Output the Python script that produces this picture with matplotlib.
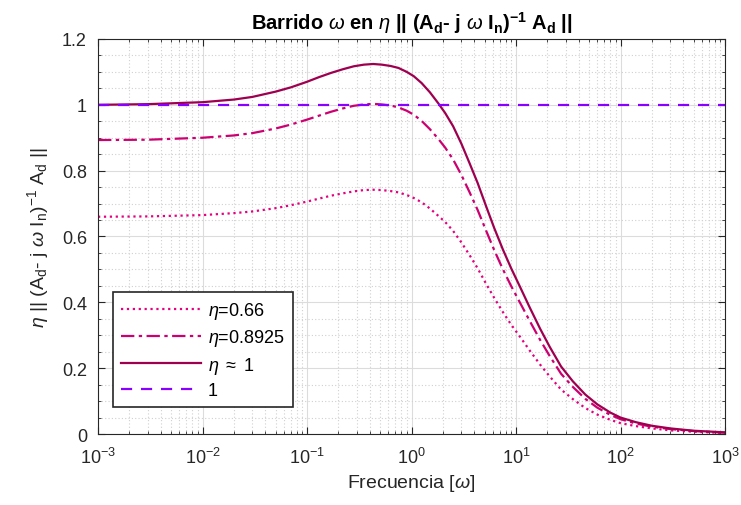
import matplotlib.pyplot as plt
import numpy as np
from matplotlib.ticker import LogLocator, MultipleLocator, FuncFormatter, NullFormatter

plt.rcParams['font.family'] = ['Liberation Sans', 'DejaVu Sans']
plt.rcParams['mathtext.fontset'] = 'custom'
plt.rcParams['mathtext.rm'] = 'Liberation Sans'
plt.rcParams['mathtext.it'] = 'Liberation Sans:italic'
plt.rcParams['mathtext.bf'] = 'Liberation Sans:bold'
plt.rcParams['axes.unicode_minus'] = False

# frequencies (rad/s)
w = [0.001, 0.003, 0.01, 0.02, 0.03, 0.05, 0.07, 0.1, 0.13, 0.17, 0.22, 0.28,
     0.35, 0.43, 0.52, 0.63, 0.75, 0.9, 1.05, 1.25, 1.5, 1.8, 2.1, 2.5, 3.0,
     3.6, 4.3, 5.2, 6.2, 7.5, 9.0, 11, 13.5, 17, 21, 27, 35, 46, 60, 80, 100,
     140, 200, 300, 500, 1000]

# eta ~ 1
n_1 = [1.000, 1.002, 1.008, 1.016, 1.024, 1.040, 1.053, 1.070, 1.084, 1.097,
       1.108, 1.117, 1.122, 1.124, 1.122, 1.118, 1.112, 1.100, 1.087, 1.066,
       1.038, 1.005, 0.975, 0.935, 0.882, 0.822, 0.762, 0.690, 0.625, 0.560,
       0.503, 0.445, 0.385, 0.320, 0.265, 0.205, 0.160, 0.120, 0.090, 0.065,
       0.050, 0.036, 0.025, 0.017, 0.010, 0.005]
# eta = 0.8925
n_08925 = [0.893, 0.894, 0.900, 0.907, 0.914, 0.928, 0.940, 0.955, 0.967, 0.979,
           0.989, 0.997, 1.001, 1.003, 1.001, 0.998, 0.992, 0.982, 0.970, 0.951,
           0.926, 0.897, 0.870, 0.834, 0.787, 0.734, 0.680, 0.616, 0.558, 0.500,
           0.449, 0.397, 0.344, 0.286, 0.237, 0.183, 0.143, 0.107, 0.080, 0.058,
           0.045, 0.032, 0.022, 0.015, 0.009, 0.004]
# eta = 0.66
n_066 = [0.660, 0.661, 0.665, 0.671, 0.676, 0.686, 0.695, 0.706, 0.715, 0.724,
         0.731, 0.737, 0.741, 0.742, 0.741, 0.738, 0.734, 0.726, 0.717, 0.704,
         0.685, 0.663, 0.644, 0.617, 0.582, 0.543, 0.503, 0.455, 0.413, 0.370,
         0.332, 0.294, 0.254, 0.211, 0.175, 0.135, 0.106, 0.079, 0.059, 0.043,
         0.033, 0.024, 0.017, 0.011, 0.007, 0.003]
ref_x = [0.001, 1000]
ref_y = [1, 1]

fig = plt.figure(figsize=(7.41, 5.06), dpi=100)
ax = fig.add_axes([0.1323, 0.1403, 0.8461, 0.7807])

lw = 1.6
ax.plot(w, n_066, ':', color='#E6007E', lw=lw, label=r'$\eta$=0.66')
ax.plot(w, n_08925, color='#CC0070', lw=lw, ls=(0, (6, 2, 1.5, 2)), label=r'$\eta$=0.8925')
ax.plot(w, n_1, '-', color='#9E004F', lw=lw, label=r'$\eta$ $\approx$ 1')
ax.plot(ref_x, ref_y, color='#8800FF', lw=lw, ls=(0, (5, 4)), label='1')

ax.set_xscale('log')
ax.set_xlim(1e-3, 1e3)
ax.set_ylim(0, 1.2)
ax.xaxis.set_major_locator(LogLocator(base=10, numticks=10))
ax.xaxis.set_minor_locator(LogLocator(base=10, subs=np.arange(2, 10), numticks=20))
ax.xaxis.set_minor_formatter(NullFormatter())
ax.yaxis.set_major_locator(MultipleLocator(0.2))
ax.yaxis.set_minor_locator(MultipleLocator(0.05))
ax.yaxis.set_major_formatter(FuncFormatter(lambda v, p: '%g' % round(v, 2)))

ax.grid(which='major', color='#DCDCDC', lw=0.8, ls='-')
ax.grid(which='minor', color='#D0D0D0', lw=0.8, ls=(0, (1, 2)))
ax.set_axisbelow(True)
ax.tick_params(which='both', direction='in', top=True, right=True,
               labelsize=13, colors='#262626')
ax.tick_params(axis='x', which='major', length=5, pad=9)
ax.tick_params(axis='y', which='major', length=5, pad=8)
ax.tick_params(which='minor', length=2.5)
for s in ax.spines.values():
    s.set_color('#262626')

ax.set_xlabel(r'Frecuencia [$\omega$]', fontsize=14, color='#262626', labelpad=4)
ax.set_ylabel(r'$\eta$ || (A$_\mathrm{d}$- j $\omega$ I$_\mathrm{n}$)$^\mathrm{-1}$ A$_\mathrm{d}$ ||',
              fontsize=14, color='#262626', labelpad=8)
ax.set_title(r'Barrido $\omega$ en $\eta$ || (A$_\mathbf{d}$- j $\omega$ I$_\mathbf{n}$)$^\mathbf{-1}$ A$_\mathbf{d}$ ||',
             fontsize=14.5, fontweight='bold', color='black', pad=7)

leg = ax.legend(loc='lower left', bbox_to_anchor=(0.024, 0.068), borderaxespad=0,
                fontsize=13, fancybox=False, framealpha=1, edgecolor='#262626',
                handlelength=4.4, handletextpad=0.4, borderpad=0.45, labelspacing=0.35)
leg.get_frame().set_linewidth(1.2)

fig.savefig('out.png', dpi=100)
